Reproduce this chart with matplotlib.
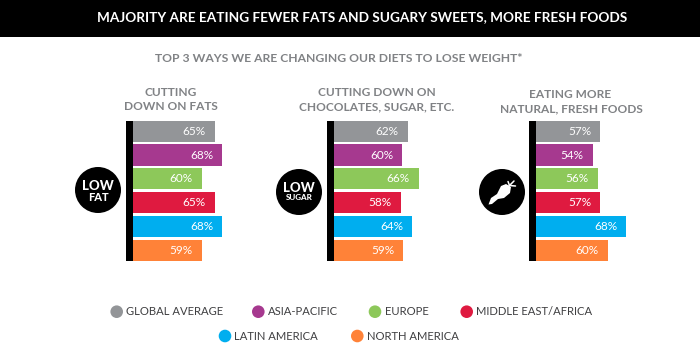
import matplotlib
matplotlib.use("Agg")
import matplotlib.pyplot as plt
from matplotlib.patches import Circle, Ellipse, Polygon, Rectangle

plt.rcParams['font.family'] = ['Lato', 'DejaVu Sans']

regions = ["GLOBAL AVERAGE", "ASIA-PACIFIC", "EUROPE", "MIDDLE EAST/AFRICA", "LATIN AMERICA", "NORTH AMERICA"]
colors = ["#939598", "#A6398F", "#8DC85A", "#DF1A40", "#00AEEF", "#FF8238"]

# printed labels
fats_labels = [65, 68, 60, 65, 68, 59]
sugar_labels = [62, 60, 66, 58, 64, 59]
fresh_labels = [57, 54, 56, 57, 68, 60]

# bar lengths as drawn, they do not always follow the printed label
fats_drawn = [65, 68, 60, 65, 68, 60]
sugar_drawn = [62, 60, 66, 59.4, 63.7, 60.4]
fresh_drawn = [57, 54, 56, 57, 67.3, 60]

W, H = 700, 354
GREY = "#808285"

fig = plt.figure(figsize=(7, 3.54), dpi=100, facecolor="white")

# overlay in pixel coords for banner, headings, badges and legend
bg = fig.add_axes([0, 0, 1, 1])
bg.set_xlim(0, W)
bg.set_ylim(H, 0)
bg.axis("off")

bg.add_patch(Rectangle((0, 0), W, 37, color="black", lw=0))
bg.text(362, 17.5, "MAJORITY ARE EATING FEWER FATS AND SUGARY SWEETS, MORE FRESH FOODS",
        color="white", fontsize=9.8, fontweight="bold", ha="center", va="center")
bg.text(339, 58, "TOP 3 WAYS WE ARE CHANGING OUR DIETS TO LOSE WEIGHT*",
        color=GREY, fontsize=8.7, fontweight="bold", ha="center", va="center")


def panel(left, xmin, xmax, labels, drawn):
    # left edge is the end of the black spine, 132px of width per panel
    x0 = left / W
    ax = fig.add_axes([x0, (H - 262.2) / H, 132 / W, 142.9 / H])
    ax.patch.set_alpha(0)
    ypos = range(len(drawn))
    ax.barh(list(ypos), drawn, height=0.89, color=colors, left=0)
    ax.set_xlim(xmin, xmax)
    ax.set_ylim(5.5, -0.5)
    ax.axis("off")
    for y, d, lab in zip(ypos, drawn, labels):
        ax.annotate(f"{lab}%", (d, y), xytext=(-6.5, 0), textcoords="offset points",
                    color="white", fontsize=8.5, ha="right", va="center")
    bg.add_patch(Rectangle((left - 7, 120.5), 7, 140.5, color="black", lw=0))


panel(132.7, 33.5, 33.5 + 132 / 2.6, fats_labels, fats_drawn)
panel(334.3, 35.3, 35.3 + 132 / 2.75, sugar_labels, sugar_drawn)
panel(536.3, 31.4, 31.4 + 132 / 2.5, fresh_labels, fresh_drawn)

# column headings
for x, y, s in [(171, 93, "CUTTING"), (171, 107, "DOWN ON FATS"),
                (377, 93, "CUTTING DOWN ON"), (377, 107, "CHOCOLATES, SUGAR, ETC."),
                (570, 95, "EATING MORE"), (571, 109, "NATURAL, FRESH FOODS")]:
    bg.text(x, y, s, color=GREY, fontsize=8.6, fontweight="bold", ha="center", va="center")

# badges
bg.add_patch(Circle((98, 190), 23, color="black", lw=0))
bg.text(98, 186, "LOW", color="white", fontsize=9.5, fontweight="black", ha="center", va="center")
bg.text(98, 197.5, "FAT", color="white", fontsize=8, fontweight="black", ha="center", va="center")

bg.add_patch(Circle((299, 192), 23, color="black", lw=0))
bg.text(299, 188, "LOW", color="white", fontsize=9.5, fontweight="black", ha="center", va="center")
bg.text(299, 197.5, "SUGAR", color="white", fontsize=5.8, fontweight="black", ha="center", va="center")

# carrot icon
bg.add_patch(Circle((502, 192), 23, color="black", lw=0))
bg.add_patch(Polygon([(488.5, 204.5), (491, 198), (497, 194), (501, 186), (506, 184),
                      (511, 187), (510, 193), (504, 198), (498, 199), (492, 204)],
                     closed=True, color="white", lw=0))
bg.add_patch(Ellipse((505.5, 189), 9.5, 8, angle=-30, color="white", lw=0))
for tip in [(514, 181), (508, 181.5), (515.5, 186)]:
    bg.plot([509.5, tip[0]], [185.5, tip[1]], color="white", lw=1.1, solid_capstyle="round")

# legend
legend_pos = [(116.7, 311.7), (258.3, 311.7), (375, 311.7), (466.7, 311.7), (225, 336), (357.3, 336)]
for (x, y), name, c in zip(legend_pos, regions, colors):
    bg.add_patch(Circle((x, y), 6.3, color=c, lw=0))
    bg.text(x + 9.5, y, name, color="#3f3f41", fontsize=8.1, ha="left", va="center")

fig.savefig("out.png", dpi=100, facecolor="white")
